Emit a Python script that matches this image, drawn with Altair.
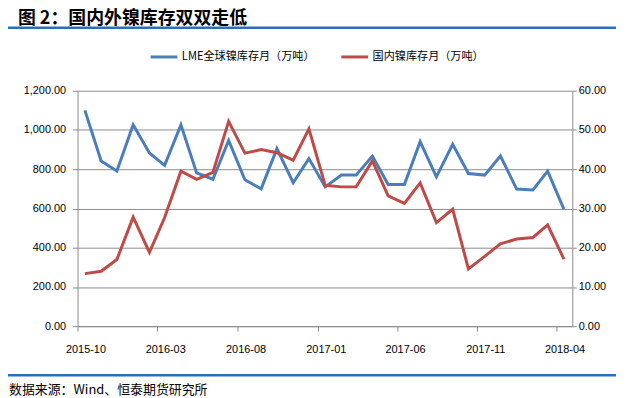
import altair as alt
import pandas as pd

months = ["2015-10", "2015-11", "2015-12", "2016-01", "2016-02", "2016-03", "2016-04",
          "2016-05", "2016-06", "2016-07", "2016-08", "2016-09", "2016-10", "2016-11",
          "2016-12", "2017-01", "2017-02", "2017-03", "2017-04", "2017-05", "2017-06",
          "2017-07", "2017-08", "2017-09", "2017-10", "2017-11", "2017-12", "2018-01",
          "2018-02", "2018-03", "2018-04"]
lme = [1100, 842, 791, 1026, 883, 820, 1026, 781, 749, 947, 746, 700, 905, 731, 854,
       710, 770, 770, 867, 722, 722, 940, 761, 927, 778, 770, 867, 699, 694, 790, 597]
domestic = [13.4, 14.0, 17.0, 27.8, 18.8, 27.7, 39.5, 37.4, 39.2, 52.2, 44.1, 45.0, 44.2,
            42.3, 50.3, 35.9, 35.5, 35.5, 42.1, 33.2, 31.3, 36.5, 26.4, 29.8, 14.6, 17.8,
            21.0, 22.2, 22.6, 25.8, 17.1]
series_names = ["LME全球镍库存月（万吨）", "国内镍库存月（万吨）"]
series_colors = ["#4A7EBB", "#BE4B48"]
x_ticks = ["2015-10", "2016-03", "2016-08", "2017-01", "2017-06", "2017-11", "2018-04"]
left_ticks = [0, 200, 400, 600, 800, 1000, 1200]
right_ticks = [0, 10, 20, 30, 40, 50, 60]
title_text = "图 2：国内外镍库存双双走低"
source_text = "数据来源：Wind、恒泰期货研究所"

df_lme = pd.DataFrame({"date": [m + "-15" for m in months], "value": lme, "series": series_names[0]})
df_dom = pd.DataFrame({"date": [m + "-15" for m in months], "value": domestic, "series": series_names[1]})

grid_c = "#8C8C8C"
num_font = "Liberation Sans"
cjk_font = "Noto Sans CJK SC"


def dt(s, utc=True):
    return alt.DateTime(year=int(s[:4]), month=int(s[5:7]), date=1, utc=utc)


x_enc = alt.X(
    "date:T",
    title=None,
    scale=alt.Scale(type="utc", domain=[dt("2015-10"), dt("2018-05")]),
    axis=alt.Axis(values=[dt(t) for t in x_ticks], format="%Y-%m", grid=False,
                  domainColor=grid_c, tickColor=grid_c, tickSize=5, labelPadding=12,
                  labelOffset=8, labelFont=num_font, labelFontSize=11, labelColor="#000",
                  labelFlush=False),
)

color_enc = alt.Color(
    "series:N",
    scale=alt.Scale(domain=series_names, range=series_colors),
    legend=alt.Legend(orient="none", legendX=72, legendY=-49, direction="horizontal",
                      title=None, symbolType="stroke", symbolSize=729, symbolStrokeWidth=3,
                      labelFont=cjk_font, labelFontSize=11.2, labelColor="#000",
                      columnPadding=20, labelOffset=3),
)

blue = alt.Chart(df_lme).mark_line(strokeWidth=3).encode(
    x=x_enc,
    y=alt.Y("value:Q", title=None, scale=alt.Scale(domain=[0, 1200], nice=False),
            axis=alt.Axis(values=left_ticks, format=",.2f", grid=True, gridColor=grid_c,
                          domainColor=grid_c, tickColor=grid_c, tickSize=5, labelPadding=7,
                          labelFont=num_font, labelFontSize=11, labelColor="#000")),
    color=color_enc,
)

red = alt.Chart(df_dom).mark_line(strokeWidth=3).encode(
    x=x_enc,
    y=alt.Y("value:Q", title=None, scale=alt.Scale(domain=[0, 60], nice=False),
            axis=alt.Axis(orient="right", values=right_ticks, format=".2f", grid=False,
                          domainColor=grid_c, tickColor=grid_c, tickSize=4, labelPadding=2,
                          labelFont=num_font, labelFontSize=11, labelColor="#000")),
    color=color_enc,
)

title_mark = alt.Chart(pd.DataFrame({"t": [title_text]})).mark_text(
    align="left", baseline="middle", fontSize=18, fontWeight="bold", font=cjk_font, color="#000"
).encode(x=alt.value(-60), y=alt.value(-72), text="t:N")

source_mark = alt.Chart(pd.DataFrame({"t": [source_text]})).mark_text(
    align="left", baseline="middle", fontSize=13, font=cjk_font, color="#000"
).encode(x=alt.value(-69), y=alt.value(301.5), text="t:N")

top_rule = alt.Chart(pd.DataFrame({"a": [0]})).mark_rule(color="#2F6EB5", strokeWidth=2.5).encode(
    x=alt.value(-70), x2=alt.value(542), y=alt.value(-63.5))
bottom_rule = alt.Chart(pd.DataFrame({"a": [0]})).mark_rule(color="#2F6EB5", strokeWidth=2.5).encode(
    x=alt.value(-70), x2=alt.value(542), y=alt.value(286.5))

chart = alt.layer(blue, red, title_mark, source_mark, top_rule, bottom_rule).resolve_scale(
    y="independent"
).properties(
    width=498, height=237, autosize="none",
    padding={"left": 70, "top": 82, "right": 46, "bottom": 70},
).configure_view(stroke=None)

chart.save("out.html", embed_options={"renderer": "svg", "actions": False})
